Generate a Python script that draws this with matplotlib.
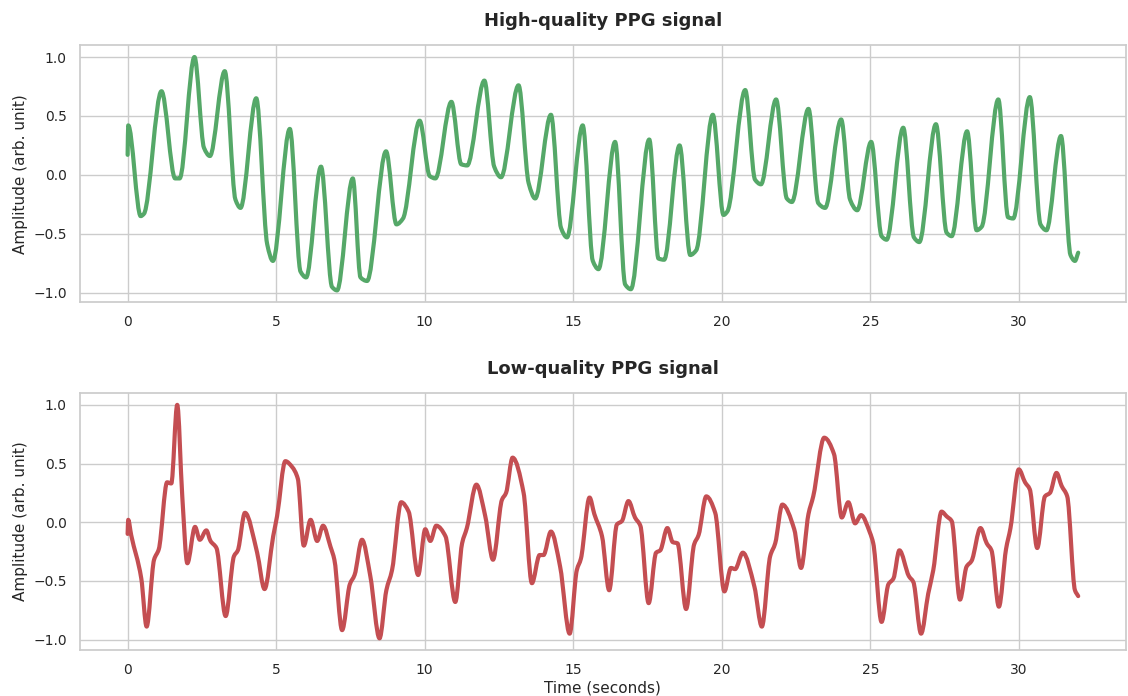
import matplotlib
matplotlib.use("Agg")
import matplotlib.pyplot as plt
import seaborn as sns
import numpy as np
from matplotlib.path import Path
from matplotlib.patches import PathPatch

# high-quality recording: key points (time in s, amplitude)
hq_time = [0.0, 0.02, 0.44, 0.55, 1.14, 1.6, 1.75, 2.25, 2.57, 2.77, 3.27, 3.63, 3.8,
           4.33, 4.7, 4.89, 5.46, 5.82, 6.01, 6.51, 6.88, 7.05, 7.58, 7.84, 8.06,
           8.7, 9.05, 9.27, 9.83, 10.17, 10.36, 10.9, 11.23, 11.43, 12.01, 12.34, 12.57,
           13.16, 13.5, 13.72, 14.25, 14.59, 14.79, 15.32, 15.66, 15.85, 16.41, 16.75,
           16.94, 17.56, 17.87, 18.06, 18.58, 18.94, 19.14, 19.7, 20.06, 20.19, 20.79,
           21.12, 21.32, 21.83, 22.19, 22.36, 22.92, 23.25, 23.48, 24.02, 24.32, 24.56,
           25.03, 25.38, 25.55, 26.11, 26.47, 26.65, 27.21, 27.57, 27.74, 28.26, 28.58,
           28.75, 29.31, 29.64, 29.81, 30.37, 30.73, 30.93, 31.42, 31.74, 31.89, 32.0]
hq_amp = [0.17, 0.42, -0.35, -0.33, 0.71, -0.03, -0.03, 1.0, 0.23, 0.16, 0.88, -0.21, -0.28,
          0.65, -0.59, -0.73, 0.39, -0.82, -0.87, 0.07, -0.95, -0.98, -0.03, -0.87, -0.9,
          0.2, -0.42, -0.37, 0.46, -0.01, -0.03, 0.62, 0.09, 0.08, 0.8, 0.07, -0.02,
          0.76, -0.07, -0.2, 0.51, -0.45, -0.53, 0.42, -0.73, -0.8, 0.28, -0.93,
          -0.97, 0.3, -0.71, -0.72, 0.25, -0.68, -0.64, 0.51, -0.34, -0.31, 0.72,
          -0.04, -0.08, 0.64, -0.2, -0.23, 0.56, -0.24, -0.28, 0.47, -0.21, -0.3,
          0.28, -0.52, -0.55, 0.4, -0.53, -0.57, 0.43, -0.49, -0.52, 0.37, -0.47,
          -0.44, 0.64, -0.36, -0.37, 0.66, -0.42, -0.47, 0.33, -0.68, -0.73, -0.66]

# low-quality recording
lq_time = [0.0, 0.02, 0.12, 0.46, 0.64, 0.89, 1.05, 1.33, 1.47, 1.67, 1.84, 2.01, 2.27,
           2.43, 2.65, 2.79, 2.99, 3.3, 3.58, 3.71, 3.95, 4.36, 4.61, 4.9, 5.03, 5.31,
           5.54, 5.73, 5.93, 6.16, 6.38, 6.58, 6.83, 6.96, 7.22, 7.48, 7.64, 7.89, 8.17,
           8.48, 8.71, 8.9, 9.21, 9.46, 9.78, 10.02, 10.19, 10.39, 10.7, 11.03, 11.26,
           11.42, 11.74, 12.04, 12.3, 12.6, 12.74, 12.96, 13.33, 13.61, 13.87, 14.0,
           14.25, 14.56, 14.88, 15.12, 15.26, 15.55, 15.71, 15.97, 16.21, 16.47, 16.64,
           16.86, 17.08, 17.26, 17.54, 17.79, 17.93, 18.17, 18.35, 18.51, 18.8, 19.07,
           19.22, 19.48, 19.78, 20.09, 20.31, 20.45, 20.71, 21.1, 21.35, 21.63, 21.8,
           22.04, 22.44, 22.67, 22.92, 23.08, 23.45, 23.78, 24.04, 24.26, 24.49, 24.69,
           24.99, 25.1, 25.38, 25.61, 25.78, 25.98, 26.3, 26.45, 26.71, 26.95, 27.12,
           27.4, 27.57, 27.74, 28.02, 28.24, 28.41, 28.71, 28.92, 29.08, 29.33, 29.57,
           29.72, 30.0, 30.21, 30.37, 30.62, 30.88, 31.05, 31.27, 31.44, 31.63, 31.89, 32.0]
lq_amp = [-0.1, 0.02, -0.11, -0.48, -0.89, -0.32, -0.23, 0.34, 0.33, 1.0, 0.22, -0.35, -0.04,
          -0.15, -0.07, -0.16, -0.22, -0.8, -0.29, -0.24, 0.08, -0.26, -0.57, -0.12, 0.05, 0.52,
          0.47, 0.37, -0.2, 0.02, -0.16, -0.03, -0.21, -0.32, -0.92, -0.53, -0.45, -0.15, -0.46,
          -0.99, -0.58, -0.41, 0.17, 0.09, -0.45, -0.06, -0.16, -0.03, -0.12, -0.68, -0.18,
          -0.05, 0.32, 0.05, -0.32, 0.19, 0.25, 0.55, 0.25, -0.52, -0.28, -0.28,
          -0.08, -0.38, -0.95, -0.41, -0.31, 0.21, 0.07, -0.12, -0.58, -0.02, 0.01,
          0.18, 0.04, -0.03, -0.69, -0.26, -0.24, -0.05, -0.17, -0.18, -0.74, -0.19,
          -0.11, 0.22, 0.08, -0.59, -0.39, -0.4, -0.26, -0.55, -0.89, -0.29, -0.18,
          0.15, -0.06, -0.39, 0.07, 0.22, 0.72, 0.58, 0.04, 0.17, -0.01, 0.06,
          -0.09, -0.18, -0.85, -0.53, -0.48, -0.24, -0.46, -0.51, -0.95, -0.61, -0.41,
          0.09, 0.05, 0.01, -0.66, -0.38, -0.33, -0.05, -0.18, -0.24, -0.72, -0.23,
          -0.05, 0.45, 0.34, 0.28, -0.22, 0.22, 0.25, 0.42, 0.31, 0.22, -0.58, -0.63]


def smooth_path(t, y):
    """Bezier path through the points, with monotone (PCHIP-style) tangents."""
    t = np.asarray(t, float)
    y = np.asarray(y, float)
    h = np.diff(t)
    d = np.diff(y) / h
    m = np.zeros_like(y)
    m[0], m[-1] = d[0], d[-1]
    for k in range(1, len(y) - 1):
        if d[k - 1] * d[k] > 0:
            w1 = 2 * h[k] + h[k - 1]
            w2 = h[k] + 2 * h[k - 1]
            m[k] = (w1 + w2) / (w1 / d[k - 1] + w2 / d[k])
    verts = [(t[0], y[0])]
    codes = [Path.MOVETO]
    for k in range(len(h)):
        verts += [(t[k] + h[k] / 3, y[k] + m[k] * h[k] / 3),
                  (t[k + 1] - h[k] / 3, y[k + 1] - m[k + 1] * h[k] / 3),
                  (t[k + 1], y[k + 1])]
        codes += [Path.CURVE4] * 3
    return Path(verts, codes)


sns.set_theme(style="whitegrid")
plt.rcParams["font.family"] = ["DejaVu Sans"]

fig, (ax1, ax2) = plt.subplots(2, 1, figsize=(11.28, 6.96), dpi=100)
fig.subplots_adjust(left=0.071, right=0.998, top=0.935, bottom=0.066, hspace=0.354)

ax1.add_patch(PathPatch(smooth_path(hq_time, hq_amp), fill=False, edgecolor="#55a868",
                        linewidth=3, joinstyle="round", capstyle="round"))
ax1.set_xlim(-1.6, 33.6)
ax1.set_ylim(-1.08, 1.10)
ax1.set_title("High-quality PPG signal", fontweight="bold", fontsize=13, pad=14)
ax1.set_ylabel("Amplitude (arb. unit)", fontsize=11)

ax2.add_patch(PathPatch(smooth_path(lq_time, lq_amp), fill=False, edgecolor="#c44e52",
                        linewidth=3, joinstyle="round", capstyle="round"))
ax2.set_xlim(-1.6, 33.6)
ax2.set_ylim(-1.09, 1.10)
ax2.set_title("Low-quality PPG signal", fontweight="bold", fontsize=13, pad=14)
ax2.set_ylabel("Amplitude (arb. unit)", fontsize=11)
ax2.set_xlabel("Time (seconds)", fontsize=11, labelpad=2)

for ax in (ax1, ax2):
    ax.tick_params(labelsize=10)
    ax.set_xticks([0, 5, 10, 15, 20, 25, 30])
    ax.set_yticks([-1.0, -0.5, 0.0, 0.5, 1.0])

fig.savefig("out.png", dpi=100)
